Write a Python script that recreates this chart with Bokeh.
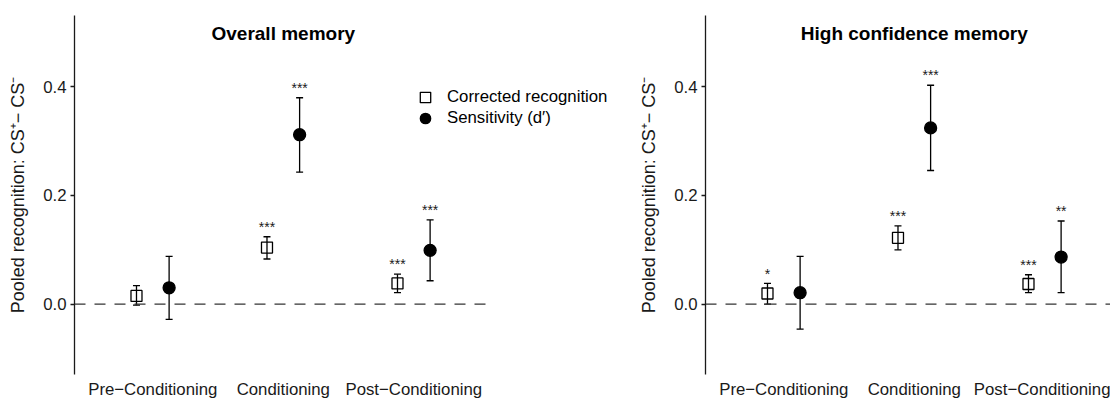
from bokeh.plotting import figure
from bokeh.models import ColumnDataSource, Whisker, TeeHead, FixedTicker, Label, Legend, LegendItem
from bokeh.layouts import row
from bokeh.embed import file_html
from bokeh.resources import INLINE

# ---------------- data ----------------
categories = ["Pre\u2212Conditioning", "Conditioning", "Post\u2212Conditioning"]
series_names = ["Corrected recognition", "Sensitivity (d\u2032)"]
panel_titles = ["Overall memory", "High confidence memory"]
y_ticks = [0.0, 0.2, 0.4]
y_tick_labels = ["0.0", "0.2", "0.4"]

# Overall memory
overall_cr_mean = [0.015, 0.104, 0.038]
overall_cr_low = [-0.002, 0.083, 0.021]
overall_cr_high = [0.034, 0.124, 0.055]
overall_cr_sig = ["", "***", "***"]
overall_d_mean = [0.030, 0.312, 0.099]
overall_d_low = [-0.028, 0.243, 0.043]
overall_d_high = [0.088, 0.380, 0.155]
overall_d_sig = ["", "***", "***"]

# High confidence memory
high_cr_mean = [0.0195, 0.122, 0.037]
high_cr_low = [0.000, 0.100, 0.021]
high_cr_high = [0.038, 0.144, 0.054]
high_cr_sig = ["*", "***", "***"]
high_d_mean = [0.021, 0.3245, 0.0866]
high_d_low = [-0.046, 0.246, 0.021]
high_d_high = [0.088, 0.403, 0.153]
high_d_sig = ["", "***", "**"]

# ---------------- style ----------------
FONT = "Liberation Sans"
PX_PER_UNIT = 547.5
Y_END = 0.5315
TOTAL_H = 401
BORDER_TOP = 15
BORDER_BOTTOM = 24
FRAME_H = TOTAL_H - BORDER_TOP - BORDER_BOTTOM
Y_START = Y_END - FRAME_H / PX_PER_UNIT
X_START = 0.4
X_PAD = 0.6
X_PX_PER_UNIT = 130.5
DODGE = 0.125
STAR_OFFSET = 0.018
AXIS_COLOR = "#1a1a1a"
TEXT_COLOR = "#1a1a1a"


def make_panel(title, cr, d, width, border_left, with_legend):
    frame_w = width - border_left
    x_end = X_START + frame_w / X_PX_PER_UNIT
    p = figure(width=width, height=TOTAL_H, x_range=(X_START, x_end), y_range=(Y_START, Y_END),
               output_backend="svg", toolbar_location=None,
               min_border_left=border_left, min_border_right=0,
               min_border_top=BORDER_TOP, min_border_bottom=BORDER_BOTTOM)
    p.outline_line_color = None
    p.xgrid.visible = False
    p.ygrid.visible = False
    p.background_fill_color = "white"
    p.border_fill_color = "white"

    xs = list(range(1, len(categories) + 1))

    # zero reference line across the panel
    p.segment(x0=[X_START], y0=[0], x1=[xs[-1] + X_PAD], y1=[0], line_color="#333333",
              line_width=1.4, line_dash="11 9")

    markers = []
    for (mean, low, high, sig), off, marker, size, fill in [
        (cr, -DODGE, "square", 11, None),
        (d, DODGE, "circle", 12, "black"),
    ]:
        xx = [x + off for x in xs]
        src = ColumnDataSource(dict(x=xx, mean=mean, low=low, high=high,
                                    sy=[h + STAR_OFFSET for h in high], sig=sig))
        w = Whisker(source=src, base="x", upper="high", lower="low",
                    line_color="black", line_width=1.3,
                    upper_head=TeeHead(size=7, line_color="black", line_width=1.3),
                    lower_head=TeeHead(size=7, line_color="black", line_width=1.3))
        p.add_layout(w)
        r = p.scatter("x", "mean", source=src, marker=marker, size=size,
                      fill_color=fill, line_color="black", line_width=1.3)
        markers.append(r)
        p.text("x", "sy", text="sig", source=src, text_align="center",
               text_baseline="alphabetic", text_font_size="14px",
               text_font={"value": FONT}, text_color=TEXT_COLOR)

    # title drawn inside the top of the panel
    p.add_layout(Label(x=(xs[0] + xs[-1]) / 2, y=Y_END - 18 / PX_PER_UNIT, text=title,
                       text_align="center", text_baseline="middle",
                       text_font=FONT, text_font_size="19px", text_font_style="bold",
                       text_color="black"))

    # y axis
    ya = p.yaxis[0]
    ya.ticker = FixedTicker(ticks=y_ticks, minor_ticks=[])
    ya.major_label_overrides = {t: l for t, l in zip(y_ticks, y_tick_labels)}
    ya.axis_line_color = AXIS_COLOR
    ya.axis_line_width = 1.3
    ya.major_tick_line_color = AXIS_COLOR
    ya.major_tick_line_width = 1.3
    ya.major_tick_in = 0
    ya.major_tick_out = 4
    ya.minor_tick_line_color = None
    ya.major_label_standoff = 4
    ya.major_label_text_font = FONT
    ya.major_label_text_font_size = "16.8px"
    ya.major_label_text_color = TEXT_COLOR
    ya.axis_label = "Pooled recognition: CS\u207A\u2212 CS\u207B"
    ya.axis_label_text_font = FONT
    ya.axis_label_text_font_size = "18px"
    ya.axis_label_text_font_style = "normal"
    ya.axis_label_text_color = TEXT_COLOR
    ya.axis_label_standoff = 12

    # x axis
    xa = p.xaxis[0]
    xa.ticker = FixedTicker(ticks=xs, minor_ticks=[])
    xa.major_label_overrides = {x: c for x, c in zip(xs, categories)}
    xa.axis_line_color = None
    xa.major_tick_line_color = None
    xa.minor_tick_line_color = None
    xa.major_tick_out = 0
    xa.major_tick_in = 0
    xa.major_label_standoff = 5
    xa.major_label_text_font = FONT
    xa.major_label_text_font_size = "16.8px"
    xa.major_label_text_color = TEXT_COLOR

    if with_legend:
        for r, name, vy in [(markers[0], series_names[0], 264), (markers[1], series_names[1], 243)]:
            leg = Legend(items=[LegendItem(label=name, renderers=[r])],
                         location=(338, vy), orientation="vertical",
                         glyph_width=26, glyph_height=26, label_height=26,
                         label_standoff=9, spacing=0, padding=0, margin=0,
                         label_text_font=FONT, label_text_font_size="16.8px",
                         label_text_color="black",
                         background_fill_alpha=0, border_line_alpha=0)
            p.add_layout(leg)
    return p


p1 = make_panel(panel_titles[0],
                (overall_cr_mean, overall_cr_low, overall_cr_high, overall_cr_sig),
                (overall_d_mean, overall_d_low, overall_d_high, overall_d_sig),
                width=613, border_left=74, with_legend=True)
p2 = make_panel(panel_titles[1],
                (high_cr_mean, high_cr_low, high_cr_high, high_cr_sig),
                (high_d_mean, high_d_low, high_d_high, high_d_sig),
                width=497, border_left=92, with_legend=False)

layout = row(p1, p2)
open("out.html", "w").write(file_html(layout, INLINE))
